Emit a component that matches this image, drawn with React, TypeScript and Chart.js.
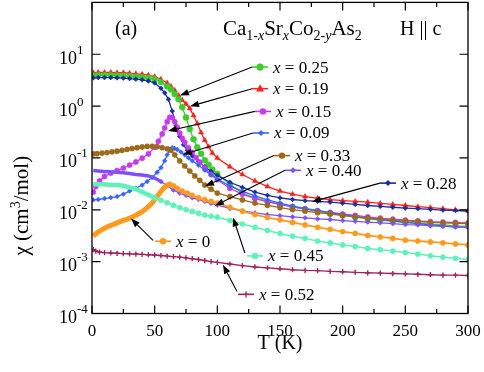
import React, { useEffect, useRef } from "react";
import { Chart, registerables } from "chart.js";
Chart.register(...registerables);

const FONT = '"Liberation Serif", "Times New Roman", serif';

// ---------------- data (T in K, chi in cm^3/mol) ----------------
const T_TAIL = [100, 110, 120, 130, 140, 150, 160, 170, 180, 190, 200, 210, 220, 230, 240, 250, 260, 270, 280, 290, 300];

const T_X000 = [1, 4, 7, 10, 13, 16, 20, 24, 28, 32, 36, 40, 44, 48, 51, 54, 57, 60, 62, 65, 68, 72, 76, 80, 85, 90, 95];
const CHI_X000 = [0.0031, 0.0036, 0.004, 0.0044, 0.0048, 0.0051, 0.0056, 0.0061, 0.0066, 0.0072, 0.0081, 0.0092, 0.011, 0.0135, 0.017, 0.021, 0.026, 0.03, 0.031, 0.029, 0.026, 0.023, 0.021, 0.019, 0.017, 0.0157, 0.0146];
const TAIL_X000 = [0.0135, 0.0112, 0.0094, 0.0081, 0.0071, 0.0064, 0.0057, 0.0051, 0.0046, 0.0042, 0.0038, 0.0035, 0.0032, 0.003, 0.0028, 0.0026, 0.0025, 0.0024, 0.0023, 0.0022, 0.0021];

const T_X009 = [1, 5, 10, 15, 20, 25, 30, 35, 40, 44, 48, 52, 55, 58, 60, 62, 64, 66, 68, 71, 74, 77, 80, 85, 90, 95];
const CHI_X009 = [0.0155, 0.0158, 0.0165, 0.0172, 0.018, 0.02, 0.023, 0.026, 0.03, 0.035, 0.042, 0.053, 0.065, 0.088, 0.115, 0.145, 0.158, 0.152, 0.145, 0.13, 0.115, 0.1, 0.088, 0.072, 0.058, 0.047];
const TAIL_X009 = [0.039, 0.029, 0.023, 0.0185, 0.0155, 0.0135, 0.0118, 0.0106, 0.0096, 0.0088, 0.0081, 0.0075, 0.007, 0.0065, 0.0061, 0.0057, 0.0054, 0.0051, 0.0049, 0.0047, 0.0046];

const T_X015 = [1, 3, 6, 10, 15, 20, 25, 30, 35, 40, 45, 50, 53, 56, 58, 60, 62, 64, 66, 68, 70, 72, 74, 77, 80, 83, 86, 90, 95];
const CHI_X015 = [0.022, 0.028, 0.036, 0.044, 0.051, 0.057, 0.064, 0.073, 0.084, 0.099, 0.12, 0.16, 0.21, 0.29, 0.38, 0.5, 0.61, 0.6, 0.5, 0.39, 0.3, 0.24, 0.2, 0.157, 0.128, 0.102, 0.083, 0.064, 0.048];
const TAIL_X015 = [0.038, 0.026, 0.02, 0.0165, 0.0143, 0.0127, 0.0114, 0.0104, 0.0096, 0.0089, 0.0083, 0.0078, 0.0073, 0.0069, 0.0066, 0.0063, 0.0061, 0.0059, 0.0058, 0.0057, 0.0056];

const T_X019 = [1, 5, 10, 15, 20, 25, 30, 35, 40, 45, 50, 55, 60, 63, 66, 69, 72, 75, 78, 81, 84, 87, 90, 93, 96];
const CHI_X019 = [4.4, 4.45, 4.45, 4.45, 4.4, 4.4, 4.3, 4.2, 4.1, 3.95, 3.7, 3.3, 2.8, 2.4, 2.0, 1.6, 1.3, 1.1, 0.9, 0.66, 0.46, 0.31, 0.22, 0.165, 0.125];
const TAIL_X019 = [0.1, 0.068, 0.048, 0.036, 0.028, 0.023, 0.02, 0.018, 0.0167, 0.0157, 0.015, 0.0145, 0.014, 0.0133, 0.0127, 0.0121, 0.0115, 0.011, 0.0105, 0.01, 0.0096];

const T_X025 = [1, 5, 10, 15, 20, 25, 30, 35, 40, 45, 50, 55, 60, 63, 66, 69, 72, 75, 78, 81, 84, 87, 90, 93, 96];
const CHI_X025 = [3.9, 3.95, 3.95, 3.95, 3.9, 3.85, 3.8, 3.7, 3.6, 3.5, 3.3, 2.9, 2.4, 2.1, 1.7, 1.35, 0.95, 0.6, 0.36, 0.23, 0.16, 0.12, 0.09, 0.074, 0.06];
const TAIL_X025 = [0.049, 0.031, 0.021, 0.017, 0.0145, 0.0127, 0.0114, 0.0103, 0.0093, 0.0085, 0.0078, 0.0072, 0.0067, 0.0063, 0.006, 0.0057, 0.0055, 0.0053, 0.0051, 0.0049, 0.0048];

const T_X028 = [1, 5, 10, 15, 20, 25, 30, 35, 40, 45, 50, 55, 58, 61, 64, 67, 70, 73, 76, 80, 85, 90, 95];
const CHI_X028 = [3.5, 3.55, 3.55, 3.55, 3.5, 3.45, 3.4, 3.3, 3.2, 3.05, 2.8, 2.2, 1.8, 1.35, 0.8, 0.42, 0.26, 0.18, 0.14, 0.11, 0.085, 0.068, 0.055];
const TAIL_X028 = [0.046, 0.034, 0.027, 0.022, 0.019, 0.017, 0.0158, 0.015, 0.0145, 0.014, 0.0134, 0.0127, 0.0121, 0.0116, 0.0112, 0.0108, 0.0105, 0.0102, 0.0099, 0.0097, 0.0094];

const T_X033 = [1, 4, 8, 12, 16, 20, 24, 28, 32, 36, 40, 44, 48, 52, 56, 60, 63, 66, 70, 74, 78, 82, 86, 90, 95];
const CHI_X033 = [0.12, 0.121, 0.124, 0.127, 0.131, 0.135, 0.14, 0.146, 0.152, 0.158, 0.163, 0.167, 0.168, 0.165, 0.158, 0.15, 0.14, 0.115, 0.088, 0.07, 0.056, 0.045, 0.037, 0.03, 0.025];
const TAIL_X033 = [0.021, 0.018, 0.0155, 0.0135, 0.0122, 0.011, 0.0101, 0.0094, 0.0088, 0.0083, 0.0078, 0.0073, 0.0069, 0.0066, 0.0063, 0.0061, 0.0059, 0.0057, 0.0056, 0.0055, 0.0054];

const T_X040 = [1, 5, 10, 15, 20, 25, 30, 35, 40, 45, 50, 55, 60, 65, 70, 75, 80, 85, 90, 95];
const CHI_X040 = [0.057, 0.056, 0.055, 0.054, 0.053, 0.052, 0.05, 0.048, 0.047, 0.045, 0.041, 0.035, 0.029, 0.024, 0.021, 0.019, 0.017, 0.0158, 0.0145, 0.0133];
const TAIL_X040 = [0.0123, 0.0106, 0.0095, 0.0087, 0.0081, 0.0077, 0.0073, 0.007, 0.0067, 0.0065, 0.0062, 0.006, 0.0058, 0.0056, 0.0054, 0.0052, 0.0051, 0.0049, 0.0048, 0.0047, 0.0046];

const T_X045 = [1, 5, 10, 15, 20, 25, 30, 35, 40, 45, 50, 55, 60, 65, 70, 75, 80, 85, 90, 95];
const CHI_X045 = [0.031, 0.031, 0.031, 0.03, 0.03, 0.029, 0.027, 0.025, 0.022, 0.0195, 0.017, 0.0152, 0.0137, 0.0122, 0.011, 0.0101, 0.0093, 0.0086, 0.0079, 0.0075];
const TAIL_X045 = [0.0072, 0.0062, 0.0053, 0.0046, 0.004, 0.0035, 0.0031, 0.0028, 0.0025, 0.0023, 0.0021, 0.00195, 0.0018, 0.0017, 0.0016, 0.0015, 0.0014, 0.0013, 0.00122, 0.00116, 0.0011];

const T_X052 = [1, 3, 6, 10, 15, 20, 25, 30, 35, 40, 45, 50, 55, 60, 65, 70, 75, 80, 85, 90, 95];
const CHI_X052 = [0.0017, 0.0016, 0.00153, 0.00149, 0.00147, 0.00145, 0.00143, 0.00141, 0.0014, 0.00138, 0.00136, 0.00134, 0.00131, 0.00128, 0.00125, 0.00122, 0.00118, 0.00114, 0.0011, 0.00105, 0.001];
const TAIL_X052 = [0.00097, 0.0009, 0.00084, 0.00079, 0.00076, 0.00073, 0.0007, 0.00068, 0.00067, 0.00065, 0.00064, 0.00062, 0.00061, 0.0006, 0.00059, 0.00058, 0.00057, 0.00056, 0.00055, 0.00055, 0.00054];

// axis ticks
const X_TICKS = [0, 50, 100, 150, 200, 250, 300];
const X_MINOR = [25, 75, 125, 175, 225, 275];
const Y_TICKS = [1e-4, 1e-3, 1e-2, 1e-1, 1, 10];
const Y_EXP = ["-4", "-3", "-2", "-1", "0", "1"];

// legend labels (position in data coords) and arrows (from label to curve)
const LEGEND_KEYS = ["0.25", "0.19", "0.15", "0.09", "0.33", "0.40", "0.28", "0", "0.45", "0.52"];
const LEGEND_T = [127.7, 127.7, 130, 128.5, 145.2, 154, 229.8, 50.3, 123.7, 116.5];
const LEGEND_CHI = [5.67, 2.17, 0.79, 0.303, 0.111, 0.0577, 0.0327, 0.00248, 0.00129, 0.000234];
const ARROW_FROM_T = [127.7, 127.7, 130, 128.5, 145.2, 154, 229.8, 48.7, 122, 115.7];
const ARROW_FROM_CHI = [5.67, 2.17, 0.79, 0.303, 0.111, 0.0577, 0.0327, 0.00257, 0.00147, 0.000267];
const ARROW_TO_T = [70.2, 78.2, 60.6, 72.6, 90.2, 98.1, 175.5, 31.1, 112.5, 104.5];
const ARROW_TO_CHI = [1.6, 0.99, 0.331, 0.116, 0.0287, 0.012, 0.0143, 0.00678, 0.0071, 0.00087];

// --------------- styles ----------------
type Sty = { key: string; color: string; marker: string; r: number; lw: number; thickBelow?: number; thickW?: number };
const STYLES: Record<string, Sty> = {
  "0": { key: "0", color: "#ff9a1f", marker: "circle", r: 2.6, lw: 1.8, thickBelow: 62, thickW: 5 },
  "0.09": { key: "0.09", color: "#3a66f5", marker: "rectRot", r: 2.4, lw: 1.3 },
  "0.15": { key: "0.15", color: "#c43cf0", marker: "circle", r: 2.6, lw: 1.3 },
  "0.19": { key: "0.19", color: "#ff1f1f", marker: "triangle", r: 3, lw: 1.3 },
  "0.25": { key: "0.25", color: "#3ccc2e", marker: "circle", r: 3, lw: 1.3 },
  "0.28": { key: "0.28", color: "#1a2d9c", marker: "rectRot", r: 2.4, lw: 1.3 },
  "0.33": { key: "0.33", color: "#9c6a1a", marker: "circle", r: 2.6, lw: 1.3 },
  "0.40": { key: "0.40", color: "#7d50ff", marker: "rectRot", r: 2.4, lw: 1.3, thickBelow: 55, thickW: 3.5 },
  "0.45": { key: "0.45", color: "#5ff2b8", marker: "circle", r: 2.6, lw: 1.5, thickBelow: 50, thickW: 4.5 },
  "0.52": { key: "0.52", color: "#a0235f", marker: "cross", r: 2.6, lw: 1.4 },
};

const SERIES: { key: string; T: number[]; chi: number[] }[] = [
  { key: "0.52", T: [...T_X052, ...T_TAIL], chi: [...CHI_X052, ...TAIL_X052] },
  { key: "0.45", T: [...T_X045, ...T_TAIL], chi: [...CHI_X045, ...TAIL_X045] },
  { key: "0", T: [...T_X000, ...T_TAIL], chi: [...CHI_X000, ...TAIL_X000] },
  { key: "0.40", T: [...T_X040, ...T_TAIL], chi: [...CHI_X040, ...TAIL_X040] },
  { key: "0.33", T: [...T_X033, ...T_TAIL], chi: [...CHI_X033, ...TAIL_X033] },
  { key: "0.09", T: [...T_X009, ...T_TAIL], chi: [...CHI_X009, ...TAIL_X009] },
  { key: "0.15", T: [...T_X015, ...T_TAIL], chi: [...CHI_X015, ...TAIL_X015] },
  { key: "0.28", T: [...T_X028, ...T_TAIL], chi: [...CHI_X028, ...TAIL_X028] },
  { key: "0.25", T: [...T_X025, ...T_TAIL], chi: [...CHI_X025, ...TAIL_X025] },
  { key: "0.19", T: [...T_X019, ...T_TAIL], chi: [...CHI_X019, ...TAIL_X019] },
];

// ------------- drawing helpers --------------
function drawMarker(ctx: CanvasRenderingContext2D, style: string, x: number, y: number, r: number, color: string) {
  ctx.save();
  ctx.fillStyle = color;
  ctx.strokeStyle = color;
  ctx.lineWidth = 1.3;
  ctx.beginPath();
  if (style === "circle") {
    ctx.arc(x, y, r, 0, Math.PI * 2);
    ctx.fill();
  } else if (style === "triangle") {
    ctx.moveTo(x, y - r * 1.2);
    ctx.lineTo(x + r * 1.1, y + r * 0.8);
    ctx.lineTo(x - r * 1.1, y + r * 0.8);
    ctx.closePath();
    ctx.fill();
  } else if (style === "rectRot") {
    ctx.moveTo(x, y - r);
    ctx.lineTo(x + r, y);
    ctx.lineTo(x, y + r);
    ctx.lineTo(x - r, y);
    ctx.closePath();
    ctx.fill();
  } else {
    ctx.moveTo(x - r, y);
    ctx.lineTo(x + r, y);
    ctx.moveTo(x, y - r);
    ctx.lineTo(x, y + r);
    ctx.stroke();
  }
  ctx.restore();
}

type Run = { t: string; size: number; italic?: boolean; dy?: number };
function runsWidth(ctx: CanvasRenderingContext2D, runs: Run[]) {
  let w = 0;
  for (const r of runs) {
    ctx.font = `${r.italic ? "italic " : ""}${r.size}px ${FONT}`;
    w += ctx.measureText(r.t).width;
  }
  return w;
}
function drawRuns(ctx: CanvasRenderingContext2D, x: number, y: number, runs: Run[]) {
  for (const r of runs) {
    ctx.font = `${r.italic ? "italic " : ""}${r.size}px ${FONT}`;
    ctx.fillText(r.t, x, y + (r.dy || 0));
    x += ctx.measureText(r.t).width;
  }
}

const annotatePlugin = {
  id: "annotate",
  afterDatasetsDraw(chart: any) {
    const { ctx, chartArea: a, scales } = chart;
    const xs = scales.x;
    const ys = scales.y;
    const px = (t: number) => xs.getPixelForValue(t);
    const py = (v: number) => ys.getPixelForValue(v);
    ctx.save();
    ctx.fillStyle = "#000";
    ctx.strokeStyle = "#000";
    ctx.textAlign = "left";
    ctx.textBaseline = "alphabetic";

    // frame
    ctx.lineWidth = 1.3;
    ctx.strokeRect(a.left, a.top, a.right - a.left, a.bottom - a.top);

    // ticks (inward)
    ctx.lineWidth = 1.2;
    ctx.beginPath();
    for (const t of X_TICKS) {
      const x = px(t);
      ctx.moveTo(x, a.bottom); ctx.lineTo(x, a.bottom - 8);
      ctx.moveTo(x, a.top); ctx.lineTo(x, a.top + 8);
    }
    for (const t of X_MINOR) {
      const x = px(t);
      ctx.moveTo(x, a.bottom); ctx.lineTo(x, a.bottom - 4.5);
      ctx.moveTo(x, a.top); ctx.lineTo(x, a.top + 4.5);
    }
    for (const v of Y_TICKS) {
      const y = py(v);
      ctx.moveTo(a.left, y); ctx.lineTo(a.left + 8.5, y);
      ctx.moveTo(a.right, y); ctx.lineTo(a.right - 8.5, y);
    }
    ctx.stroke();

    // x tick labels
    ctx.font = `17px ${FONT}`;
    ctx.textAlign = "center";
    for (const t of X_TICKS) ctx.fillText(String(t), px(t), a.bottom + 22);
    // x title
    ctx.font = `20px ${FONT}`;
    ctx.fillText("T (K)", (a.left + a.right) / 2, a.bottom + 35);

    // y tick labels "10" + superscript
    ctx.textAlign = "left";
    Y_TICKS.forEach((v, i) => {
      const y = py(v);
      ctx.font = `18px ${FONT}`;
      const w10 = ctx.measureText("10").width;
      ctx.fillText("10", a.left - 15 - w10, y + 9.5);
      ctx.font = `13px ${FONT}`;
      ctx.fillText(Y_EXP[i], a.left - 15, y - 0.5);
    });

    // y title (rotated)
    const yTitle: Run[] = [
      { t: "\u03c7 (cm", size: 21 },
      { t: "3", size: 14, dy: -8 },
      { t: "/mol)", size: 21 },
    ];
    ctx.save();
    ctx.translate(28, py(0.012));
    ctx.rotate(-Math.PI / 2);
    const wY = runsWidth(ctx, yTitle);
    drawRuns(ctx, -wY / 2, 0, yTitle);
    ctx.restore();

    // panel label and title
    ctx.font = `20px ${FONT}`;
    ctx.fillText("(a)", px(18.4), py(24));
    const title: Run[] = [
      { t: "Ca", size: 21 },
      { t: "1-", size: 14, dy: 5 },
      { t: "x", size: 14, italic: true, dy: 5 },
      { t: "Sr", size: 21 },
      { t: "x", size: 14, italic: true, dy: 5 },
      { t: "Co", size: 21 },
      { t: "2-", size: 14, dy: 5 },
      { t: "y", size: 14, italic: true, dy: 5 },
      { t: "As", size: 21 },
      { t: "2", size: 14, dy: 5 },
    ];
    drawRuns(ctx, px(104.5), py(24), title);
    ctx.font = `20px ${FONT}`;
    ctx.fillText("H || c", px(245.8), py(24));

    // arrows
    ctx.lineWidth = 1.1;
    LEGEND_KEYS.forEach((k, i) => {
      const x0 = px(ARROW_FROM_T[i]);
      const y0 = py(ARROW_FROM_CHI[i]);
      const x1 = px(ARROW_TO_T[i]);
      const y1 = py(ARROW_TO_CHI[i]);
      const ang = Math.atan2(y1 - y0, x1 - x0);
      const L = 9, W = 3.3;
      const bx = x1 - L * Math.cos(ang);
      const by = y1 - L * Math.sin(ang);
      ctx.beginPath();
      ctx.moveTo(x0, y0);
      ctx.lineTo(bx, by);
      ctx.stroke();
      ctx.beginPath();
      ctx.moveTo(x1, y1);
      ctx.lineTo(bx + W * Math.sin(ang), by - W * Math.cos(ang));
      ctx.lineTo(bx - W * Math.sin(ang), by + W * Math.cos(ang));
      ctx.closePath();
      ctx.fill();
    });

    // legend labels
    LEGEND_KEYS.forEach((k, i) => {
      const s = STYLES[k];
      const x = px(LEGEND_T[i]);
      const y = py(LEGEND_CHI[i]);
      ctx.save();
      ctx.strokeStyle = s.color;
      ctx.lineWidth = 1.6;
      ctx.beginPath();
      ctx.moveTo(x, y);
      ctx.lineTo(x + 16, y);
      ctx.stroke();
      ctx.restore();
      drawMarker(ctx, s.marker, x + 8, y, s.r + 0.6, s.color);
      ctx.fillStyle = "#000";
      drawRuns(ctx, x + 21, y + 5.5, [
        { t: "x", size: 17, italic: true },
        { t: " = " + k, size: 17 },
      ]);
    });

    ctx.restore();
  },
};

export default function App() {
  const ref = useRef<HTMLCanvasElement | null>(null);
  useEffect(() => {
    if (!ref.current) return;
    const datasets = SERIES.map((s) => {
      const st = STYLES[s.key];
      return {
        label: "x = " + s.key,
        data: s.T.map((t, i) => ({ x: t, y: s.chi[i] })),
        borderColor: st.color,
        backgroundColor: st.color,
        borderWidth: st.lw,
        pointStyle: st.marker,
        pointRadius: (c: any) => (st.thickBelow && c.raw && c.raw.x < st.thickBelow ? 0 : st.r),
        pointBorderWidth: st.marker === "cross" ? 1.4 : 0.5,
        pointBorderColor: st.color,
        pointBackgroundColor: st.color,
        tension: 0,
        fill: false,
        segment: {
          borderWidth: (c: any) =>
            st.thickBelow && c.p1.parsed.x <= st.thickBelow + 0.5 ? st.thickW : st.lw,
        },
      };
    });
    const chart = new Chart(ref.current, {
      type: "line",
      data: { datasets: datasets as any },
      options: {
        responsive: false,
        animation: false,
        layout: { padding: { left: 0, right: 16, top: 0, bottom: 0 } },
        plugins: { legend: { display: false }, tooltip: { enabled: false }, title: { display: false } },
        scales: {
          x: {
            type: "linear",
            min: 0,
            max: 300,
            ticks: { display: false },
            grid: { display: false, drawTicks: false },
            border: { display: false },
            afterFit: (s: any) => { s.height = 58.5; },
          },
          y: {
            type: "logarithmic",
            min: 1e-4,
            max: 100,
            ticks: { display: false },
            grid: { display: false, drawTicks: false },
            border: { display: false },
            afterFit: (s: any) => { s.width = 92; },
          },
        },
      },
      plugins: [annotatePlugin],
    });
    return () => chart.destroy();
  }, []);
  return (
    <div style={{ position: "fixed", left: 0, top: -3, width: 484, height: 375, background: "#fff" }}>
      <canvas ref={ref} width={484} height={375} style={{ width: 484, height: 375, display: "block" }} />
    </div>
  );
}
